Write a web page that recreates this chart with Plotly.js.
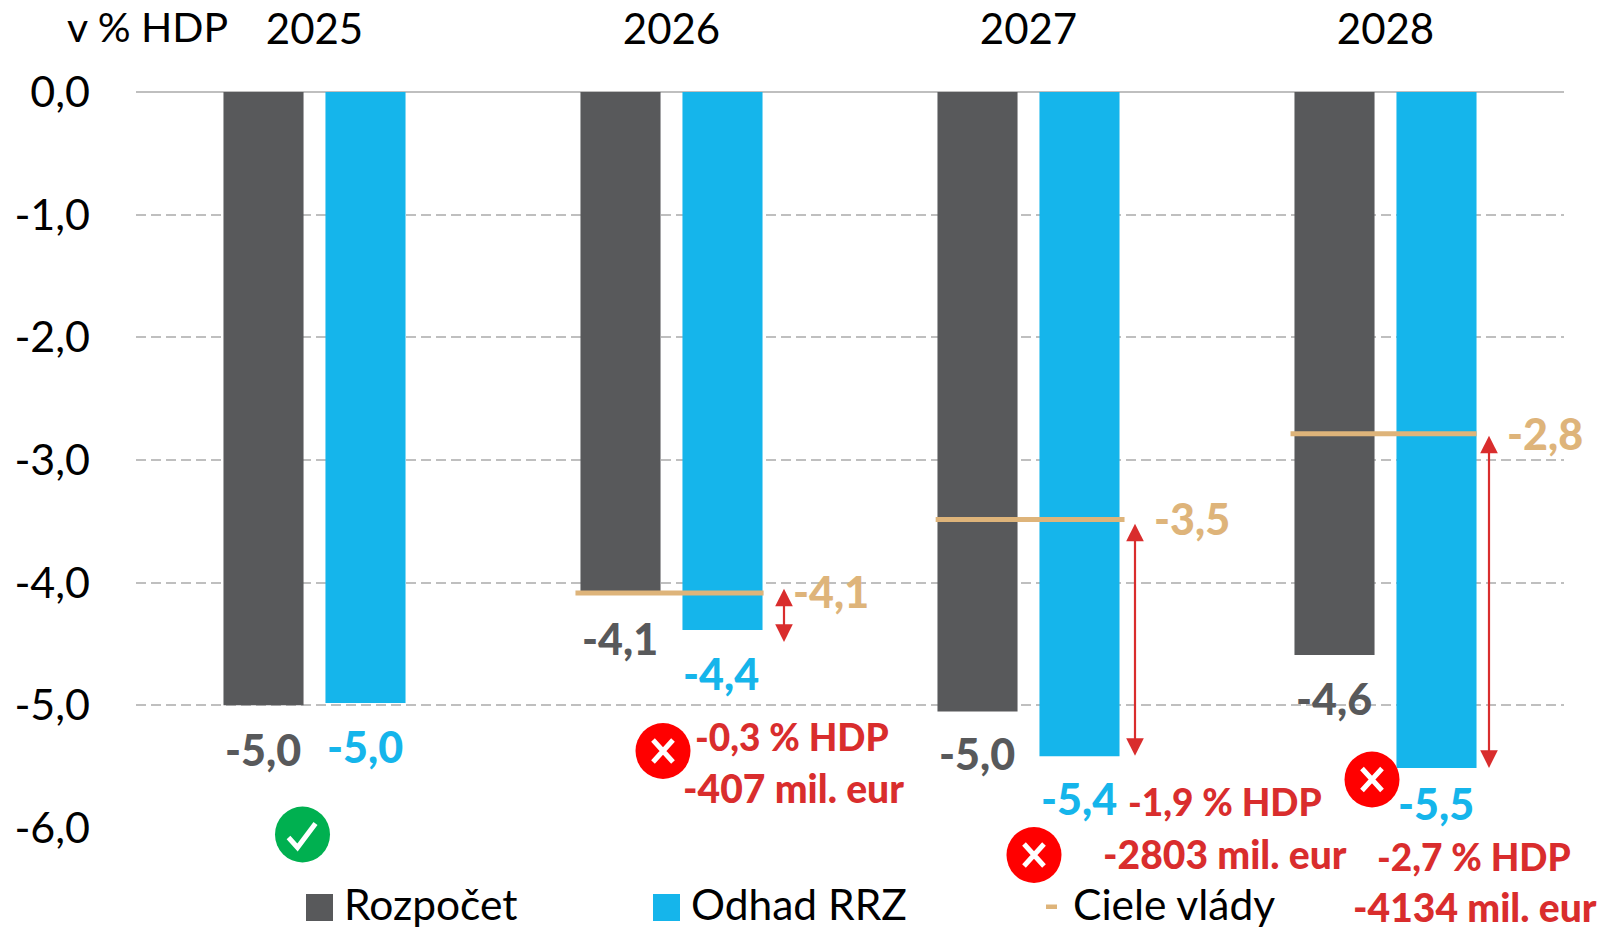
<!DOCTYPE html>
<html><head><meta charset="utf-8">
<script src="https://cdn.plot.ly/plotly-3.0.1.min.js"></script>
<style>html,body{margin:0;padding:0;background:#fff;overflow:hidden}#c{width:1622px;height:927px}</style>
</head><body><div id="c"></div>
<script>
const years = ["2025","2026","2027","2028"];
const yearIdx = [0,1,2,3];
const rozpocet = [-5.0,-4.07,-5.05,-4.59];
const odhadRRZ = [-4.98,-4.385,-5.415,-5.51];
const cieleVlady = [null,-4.085,-3.485,-2.785];
const yTicks = [0,-1,-2,-3,-4,-5,-6];
const yTickText = ["0,0","-1,0","-2,0","-3,0","-4,0","-5,0","-6,0"];
const rozpocetLabels = ["-5,0","-4,1","-5,0","-4,6"];
const odhadLabels = ["-5,0","-4,4","-5,4","-5,5"];
const cieleLabels = ["","-4,1","-3,5","-2,8"];
const gapPct = ["-0,3 % HDP","-1,9 % HDP","-2,7 % HDP"];
const gapEur = ["-407 mil. eur","-2803 mil. eur","-4134 mil. eur"];
const arrowTop = [-4.037,-3.507,-2.79];
const arrowBottom = [-4.483,-5.412,-5.51];

const GRAY="#58595B",BLUE="#15B5EB",TAN="#DEB47A",RED="#D92D2D",GRID="#BFBFBF";
const FONT="Lato, Carlito, Calibri, sans-serif";
const M={l:136,r:58,t:92,b:99},W=1622,H=927;
const px=x=>(x-M.l)/(W-M.l-M.r), py=y=>1-(y-M.t)/(H-M.t-M.b);

function txt(text,x,y,color,size,bold){
  return {text:text,xref:"paper",yref:"paper",x:px(x),y:py(y),xanchor:"center",yanchor:"middle",
    showarrow:false,font:{family:FONT,size:size,color:color,weight:bold?900:400}};
}
const annotations=[];
annotations.push(txt("v % HDP",147,27,"#000",41,false));
[263,620,977,1334].forEach((x,i)=>annotations.push(txt(rozpocetLabels[i],x,[749,638,753,698][i],GRAY,43,true)));
[365,721,1079,1436].forEach((x,i)=>annotations.push(txt(odhadLabels[i],x,[746,673,798,803][i],BLUE,43,true)));
[null,831,1191.5,1545].forEach((x,i)=>{if(x)annotations.push(txt(cieleLabels[i],x,[0,591,518,433][i],TAN,43,true));});
[792,1225,1474].forEach((x,i)=>annotations.push(txt(gapPct[i],x,[736.5,801.7,856.7][i],RED,37,true)));
[793,1224.5,1474.5].forEach((x,i)=>annotations.push(txt(gapEur[i],x,[788,854,907][i],RED,39,true)));
[784,1135,1489].forEach((x,i)=>{
  const xd=(x-136)/357-0.5;
  annotations.push({xref:"x",yref:"y",axref:"x",ayref:"y",x:xd,y:arrowBottom[i],ax:xd,ay:arrowTop[i],text:"",showarrow:true,
    arrowhead:2,startarrowhead:2,arrowside:"end+start",arrowsize:1.6,startarrowsize:1.6,arrowwidth:2.2,arrowcolor:RED,standoff:0,startstandoff:0});
});
const legend=[["Rozpočet",342],["Odhad RRZ",689],["Ciele vlády",1071]];
legend.forEach(l=>{const a=txt(l[0],l[1],903,"#000",42.5,false);a.xanchor="left";annotations.push(a);});

const shapes=[];
function rect(x0,y0,x1,y1,c){shapes.push({type:"rect",xref:"paper",yref:"paper",x0:px(x0),x1:px(x1),y0:py(y0),y1:py(y1),fillcolor:c,line:{width:0}});}
rect(306,894,333,921,GRAY);rect(653,894,680,921,BLUE);rect(1046,904.5,1057,909,TAN);
function icon(cx,cy,c,path){
  shapes.push({type:"circle",xref:"paper",yref:"paper",x0:px(cx-27.5),x1:px(cx+27.5),y0:py(cy-28),y1:py(cy+28),fillcolor:c,line:{width:0}});
  shapes.push({type:"path",xref:"paper",yref:"paper",xsizemode:"pixel",ysizemode:"pixel",xanchor:px(cx),yanchor:py(cy),path:path,line:{color:"#fff",width:5}});
}
const X="M-10,-11L10,11M-10,11L10,-11", CHECK="M-14,-3L-5,-13L13,11";
icon(663,751,"#FF0000",X);icon(1034,855,"#FF0000",X);icon(1372,779.5,"#FF0000",X);icon(302.5,834.5,"#00B050",CHECK);

const targetX=[],targetY=[];
[[-0.269,0.258],[-0.26,0.269],[-0.266,0.255]].forEach((o,i)=>{
  const k=i+1;targetX.push(yearIdx[k]+o[0],yearIdx[k]+o[1],null);targetY.push(cieleVlady[k],cieleVlady[k],null);
});
const traces=[
 {type:"bar",name:"Rozpočet",x:yearIdx,y:rozpocet,marker:{color:GRAY}},
 {type:"bar",name:"Odhad RRZ",x:yearIdx,y:odhadRRZ,marker:{color:BLUE}},
 {type:"scatter",mode:"lines",name:"Ciele vlády",x:targetX,y:targetY,line:{color:TAN,width:5},connectgaps:false}
];
const layout={
 width:W,height:H,margin:{l:M.l,r:M.r,t:M.t,b:M.b,pad:0},paper_bgcolor:"#fff",plot_bgcolor:"#fff",
 barmode:"group",bargap:0.4286,bargroupgap:0.215,showlegend:false,hovermode:false,
 xaxis:{type:"linear",range:[-0.5,3.5],side:"top",tickmode:"array",tickvals:yearIdx,ticktext:years,showgrid:false,zeroline:false,showline:false,
   ticks:"",ticklabelstandoff:39,tickfont:{family:FONT,size:42,color:"#000"},fixedrange:true},
 yaxis:{range:[-6,0],tickmode:"array",tickvals:yTicks,ticktext:yTickText,showgrid:true,gridcolor:GRID,gridwidth:2,griddash:"10px,5px",
   zeroline:true,zerolinecolor:GRID,zerolinewidth:2,showline:false,ticks:"",ticklabelstandoff:45,tickfont:{family:FONT,size:43,color:"#000"},fixedrange:true},
 annotations:annotations,shapes:shapes
};
Plotly.newPlot("c",traces,layout,{displayModeBar:false,staticPlot:true});
</script></body></html>
